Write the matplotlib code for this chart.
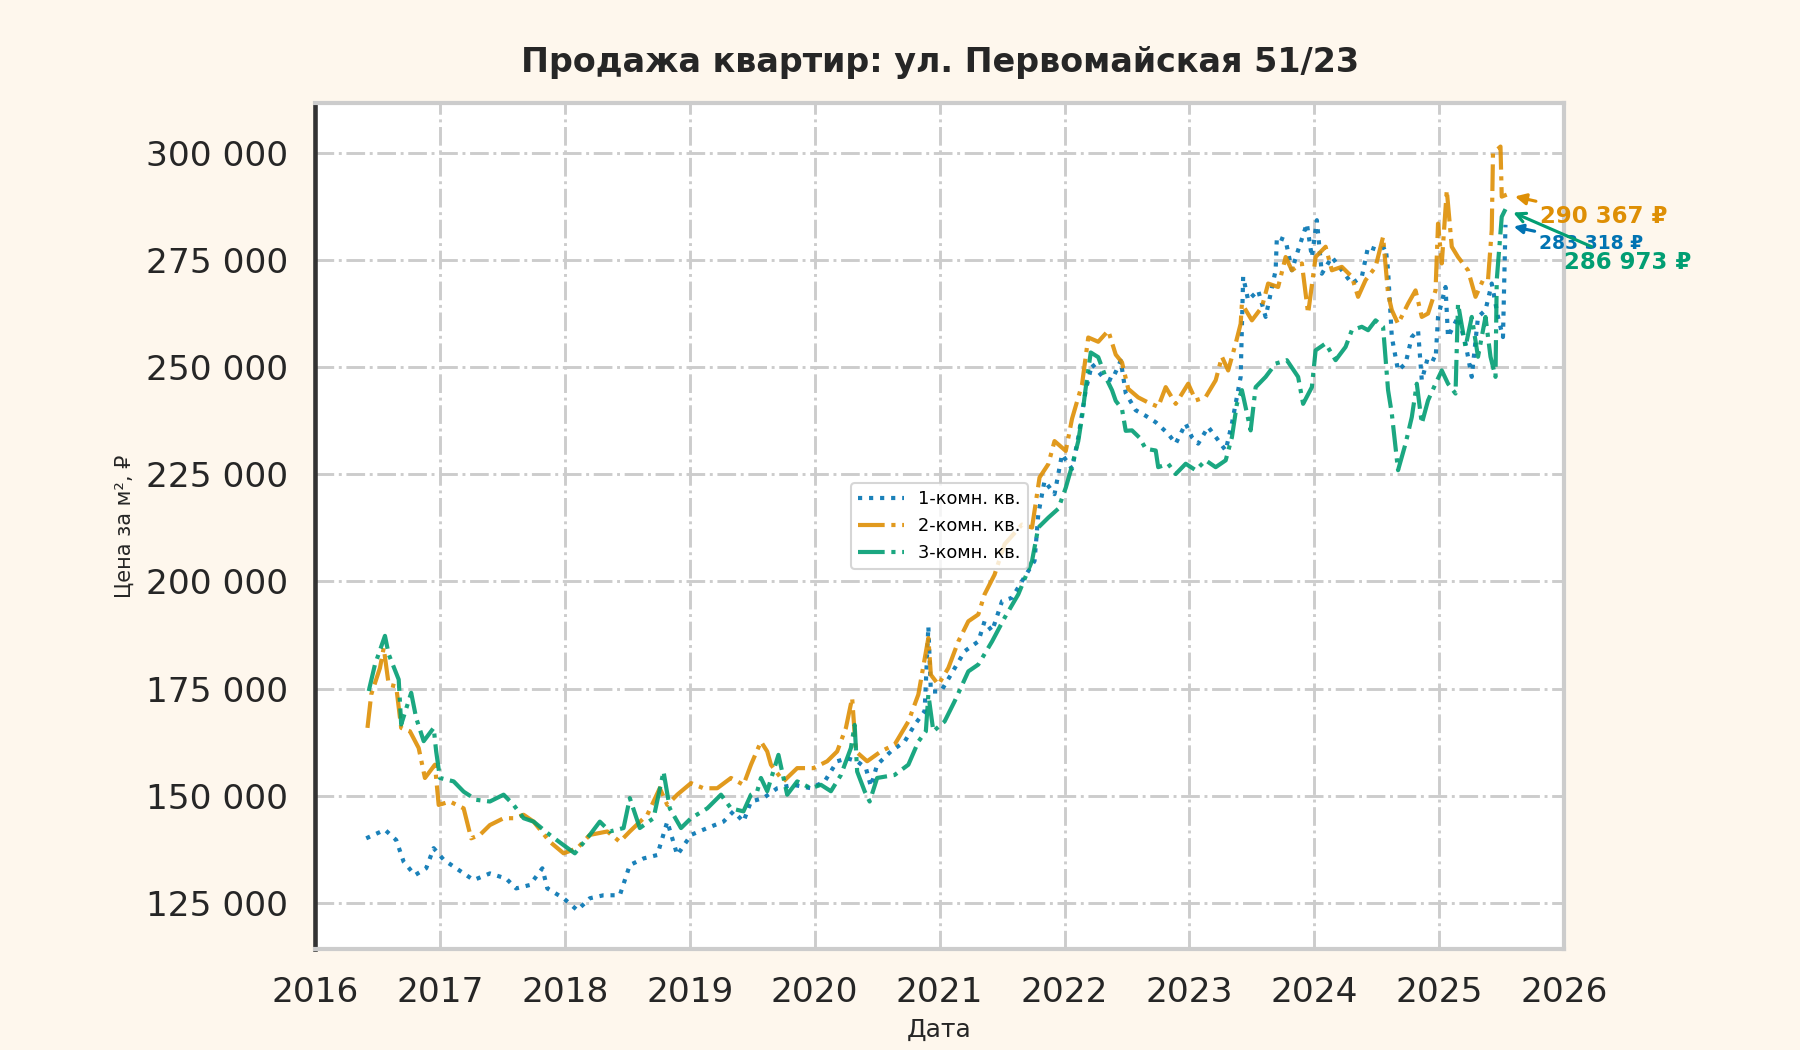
import matplotlib
matplotlib.use("Agg")
import matplotlib.pyplot as plt
from matplotlib.ticker import FuncFormatter, MultipleLocator

# decimal years / price per m2
years_1 = [2016.41, 2016.56, 2016.65, 2016.71, 2016.80, 2016.89, 2016.95, 2017.03, 2017.13, 2017.27,
           2017.40, 2017.53, 2017.61, 2017.72, 2017.82, 2017.86, 2017.99, 2018.10, 2018.20, 2018.31,
           2018.44, 2018.52, 2018.63, 2018.74, 2018.82, 2018.90, 2019.01, 2019.14, 2019.27, 2019.35,
           2019.43, 2019.49, 2019.59, 2019.70, 2019.83, 2019.97, 2020.08, 2020.18, 2020.26, 2020.34,
           2020.41, 2020.45, 2020.50, 2020.61, 2020.72, 2020.80, 2020.88, 2020.91, 2020.93, 2021.01,
           2021.09, 2021.20, 2021.31, 2021.36, 2021.42, 2021.50, 2021.58, 2021.66, 2021.76, 2021.79,
           2021.84, 2021.92, 2021.98, 2022.06, 2022.11, 2022.17, 2022.22, 2022.30, 2022.38, 2022.45,
           2022.49, 2022.57, 2022.65, 2022.73, 2022.83, 2022.89, 2022.97, 2023.02, 2023.07, 2023.15,
           2023.23, 2023.29, 2023.34, 2023.41, 2023.43, 2023.47, 2023.55, 2023.61, 2023.69, 2023.70,
           2023.77, 2023.82, 2023.87, 2023.94, 2023.98, 2024.02, 2024.06, 2024.14, 2024.22, 2024.30,
           2024.38, 2024.43, 2024.51, 2024.57, 2024.59, 2024.62, 2024.67, 2024.73, 2024.78, 2024.83,
           2024.86, 2024.91, 2024.97, 2024.99, 2025.05, 2025.07, 2025.15, 2025.21, 2025.26, 2025.31,
           2025.37, 2025.42, 2025.47, 2025.51, 2025.53]
price_1 = [140000, 142000, 139600, 134500, 131400, 133000, 137700, 135000, 133000, 130250,
           131800, 130600, 128300, 129100, 133000, 128300, 126000, 123200, 126000, 126700,
           126700, 133750, 135300, 136100, 143900, 136100, 140800, 142400, 143900, 146300,
           143900, 148600, 149400, 151700, 152500, 151700, 153300, 158000, 158700, 158000,
           156400, 152100, 157200, 160300, 162600, 166500, 169700, 189500, 174300, 174300,
           178200, 183700, 186000, 190700, 188400, 195400, 196200, 200100, 204800, 215700,
           223500, 220400, 229700, 226300, 233600, 244700, 250800, 248000, 247000, 251600,
           244000, 240000, 238700, 237200, 234500, 232200, 236900, 233700, 232200, 236100,
           233000, 230600, 236900, 247800, 271200, 265700, 268000, 261800, 272700, 280500,
           279700, 272700, 277400, 283600, 275800, 284400, 271900, 275800, 272700, 269600,
           271200, 278200, 277400, 278200, 272700, 257100, 249300, 250900, 257100, 258700,
           247000, 252500, 251700, 261800, 268800, 257100, 261800, 255600, 247800, 261800,
           263400, 269600, 261800, 257100, 283318]

years_2 = [2016.42, 2016.45, 2016.52, 2016.55, 2016.59, 2016.65, 2016.69, 2016.76, 2016.83, 2016.88,
           2016.96, 2016.99, 2017.08, 2017.19, 2017.25, 2017.32, 2017.40, 2017.51, 2017.59, 2017.67,
           2017.75, 2017.88, 2017.99, 2018.10, 2018.20, 2018.34, 2018.44, 2018.52, 2018.66, 2018.76,
           2018.82, 2018.90, 2019.01, 2019.11, 2019.22, 2019.33, 2019.43, 2019.49, 2019.57, 2019.62,
           2019.65, 2019.75, 2019.86, 2019.99, 2020.10, 2020.18, 2020.25, 2020.30, 2020.33, 2020.42,
           2020.53, 2020.64, 2020.75, 2020.83, 2020.91, 2020.93, 2020.99, 2021.07, 2021.15, 2021.23,
           2021.31, 2021.36, 2021.44, 2021.52, 2021.66, 2021.74, 2021.80, 2021.87, 2021.92, 2022.01,
           2022.06, 2022.14, 2022.19, 2022.27, 2022.35, 2022.41, 2022.46, 2022.51, 2022.59, 2022.67,
           2022.75, 2022.81, 2022.89, 2022.99, 2023.05, 2023.13, 2023.21, 2023.26, 2023.31, 2023.37,
           2023.41, 2023.42, 2023.50, 2023.58, 2023.63, 2023.71, 2023.77, 2023.82, 2023.90, 2023.95,
           2024.01, 2024.09, 2024.14, 2024.22, 2024.30, 2024.35, 2024.41, 2024.49, 2024.55, 2024.59,
           2024.62, 2024.67, 2024.75, 2024.81, 2024.86, 2024.91, 2024.97, 2024.99, 2025.02, 2025.06,
           2025.10, 2025.15, 2025.23, 2025.29, 2025.35, 2025.39, 2025.42, 2025.43, 2025.49, 2025.50,
           2025.54]
price_2 = [165800, 173600, 179800, 184500, 175900, 175500, 165800, 165000, 161100, 154100,
           157200, 147800, 148600, 147000, 140000, 140800, 143100, 144700, 144700, 145500,
           143900, 139200, 136500, 137700, 140800, 141600, 139200, 141600, 145500, 151700,
           147800, 150200, 152900, 151700, 151700, 154100, 152500, 157200, 162600, 160300,
           157200, 153300, 156400, 156400, 158000, 160300, 165800, 172800, 160300, 158000,
           160300, 161900, 167300, 173600, 186800, 178200, 175900, 179800, 186000, 190700,
           192300, 197000, 201600, 208700, 213300, 212600, 224300, 227400, 232800, 230500,
           238000, 246000, 257000, 256000, 258600, 253000, 251200, 245000, 243000, 241800,
           240800, 245400, 241500, 246200, 242300, 243100, 247000, 252500, 249300, 255600,
           260200, 264900, 261000, 264100, 269600, 268800, 275800, 272700, 274300, 262600,
           275800, 278200, 272700, 273500, 271200, 266500, 270400, 273500, 280500, 267200,
           263400, 260200, 264900, 268000, 261800, 262600, 268000, 283600, 274300, 291400,
           278200, 275800, 272700, 266500, 270400, 270400, 282100, 300000, 301600, 289900,
           290367]

years_3 = [2016.43, 2016.48, 2016.56, 2016.59, 2016.67, 2016.69, 2016.77, 2016.81, 2016.87, 2016.95,
           2016.97, 2017.00, 2017.11, 2017.19, 2017.29, 2017.40, 2017.51, 2017.59, 2017.67, 2017.75,
           2017.88, 2017.99, 2018.08, 2018.20, 2018.28, 2018.36, 2018.47, 2018.52, 2018.60, 2018.71,
           2018.79, 2018.84, 2018.93, 2019.01, 2019.14, 2019.25, 2019.33, 2019.43, 2019.49, 2019.54,
           2019.57, 2019.62, 2019.71, 2019.78, 2019.86, 2019.97, 2020.05, 2020.13, 2020.21, 2020.29,
           2020.32, 2020.34, 2020.40, 2020.44, 2020.50, 2020.64, 2020.75, 2020.83, 2020.89, 2020.91,
           2020.95, 2021.04, 2021.12, 2021.23, 2021.31, 2021.42, 2021.52, 2021.63, 2021.74, 2021.79,
           2021.87, 2021.95, 2022.01, 2022.06, 2022.11, 2022.14, 2022.17, 2022.21, 2022.27, 2022.33,
           2022.38, 2022.41, 2022.46, 2022.49, 2022.54, 2022.60, 2022.65, 2022.73, 2022.75, 2022.83,
           2022.89, 2022.97, 2023.05, 2023.13, 2023.21, 2023.29, 2023.34, 2023.38, 2023.42, 2023.49,
           2023.53, 2023.61, 2023.69, 2023.78, 2023.87, 2023.91, 2023.98, 2024.01, 2024.09, 2024.17,
           2024.25, 2024.30, 2024.38, 2024.43, 2024.49, 2024.55, 2024.59, 2024.62, 2024.67, 2024.73,
           2024.78, 2024.82, 2024.86, 2024.91, 2024.97, 2025.02, 2025.07, 2025.13, 2025.15, 2025.21,
           2025.26, 2025.31, 2025.37, 2025.41, 2025.45, 2025.46, 2025.50, 2025.53]
price_3 = [174400, 180600, 187300, 183000, 177100, 166600, 174000, 168100, 162700, 165800,
           160300, 154100, 153300, 150900, 149000, 148600, 150200, 147800, 144700, 143900,
           140800, 138400, 136500, 140800, 143900, 141600, 142400, 149400, 142400, 144700,
           155600, 147000, 142400, 144700, 147000, 150200, 147000, 146300, 150200, 151000,
           154100, 151000, 159500, 150200, 153300, 151700, 152500, 151000, 154800, 161100,
           166500, 155600, 151000, 148600, 154100, 154800, 157200, 162600, 165000, 173600,
           165000, 167300, 172000, 179000, 180600, 186000, 191500, 197000, 204800, 212600,
           214900, 217000, 221900, 227000, 232800, 238400, 245300, 253500, 252400, 247700,
           244700, 242200, 240300, 235200, 235300, 233600, 231000, 230600, 226700, 227500,
           225100, 227500, 226000, 228300, 226700, 228300, 233700, 241500, 244700, 235300,
           245400, 247800, 250900, 251700, 247800, 241500, 245400, 254000, 255600, 251700,
           254800, 258700, 259500, 258700, 261000, 259500, 244700, 239200, 226000, 232200,
           238400, 246200, 236900, 242300, 246200, 249300, 246200, 243900, 264900, 254800,
           261800, 252500, 261800, 252500, 247800, 270400, 285200, 286973]

labels = ["1-комн. кв.", "2-комн. кв.", "3-комн. кв."]
colors = ["#0173B2", "#DE8F05", "#029E73"]
styles = [":", "-.", "-."]
# annotation text offsets (points) and sizes
offsets = [(16, -9), (16, -10.5), (28, -25.5)]
ann_sizes = [9, 11, 11]
ann_arrows = ["-|>", "-|>", "->"]

fig = plt.figure(figsize=(12, 7), dpi=150, facecolor="#fef7ed")
ax = fig.add_axes([0.175, 0.096, 0.694, 0.806])
ax.set_facecolor("white")

series = [(years_1, price_1), (years_2, price_2), (years_3, price_3)]
for (xs, ys), lab, col, ls in zip(series, labels, colors, styles):
    ax.plot(xs, ys, linestyle=ls, color=col, lw=2, alpha=0.9, label=lab)

for (xs, ys), col, off, fs, arr in zip(series, colors, offsets, ann_sizes, ann_arrows):
    txt = f"{ys[-1]:,.0f} ₽".replace(",", " ")
    ax.annotate(txt, xy=(xs[-1], ys[-1]), xytext=off, textcoords="offset points",
                ha="left", va="center", fontsize=fs, fontweight="bold", color=col,
                arrowprops=dict(arrowstyle=arr, color=col, lw=1.5, shrinkA=0, shrinkB=4),
                annotation_clip=False)

ax.set_xlim(2016, 2026)
ax.set_ylim(114100, 311800)
ax.xaxis.set_major_locator(MultipleLocator(1))
ax.xaxis.set_major_formatter(FuncFormatter(lambda v, p: f"{int(round(v))}"))
ax.yaxis.set_major_locator(MultipleLocator(25000))
ax.yaxis.set_major_formatter(FuncFormatter(lambda v, p: f"{v:,.0f}".replace(",", " ")))
ax.tick_params(axis="both", length=0, pad=13, labelsize=16.5, labelcolor="#262626")

ax.grid(True, linestyle="-.", color="#cccccc", lw=1.4)
ax.set_axisbelow(True)
for side in ["top", "right", "bottom"]:
    ax.spines[side].set_color("#cccccc")
    ax.spines[side].set_linewidth(2)
ax.spines["left"].set_color("#333333")
ax.spines["left"].set_linewidth(2.2)

ax.set_title("Продажа квартир: ул. Первомайская 51/23", fontsize=16, fontweight="bold",
             color="#262626", pad=15)
ax.set_xlabel("Дата", fontsize=12, color="#262626", labelpad=4)
ax.set_ylabel("Цена за м², ₽", fontsize=10, color="#262626", labelpad=5)
ax.legend(loc="center", fontsize=8.5, handlelength=2.6, frameon=True, edgecolor="#cccccc")

fig.savefig("out.png", dpi=150, facecolor=fig.get_facecolor())
